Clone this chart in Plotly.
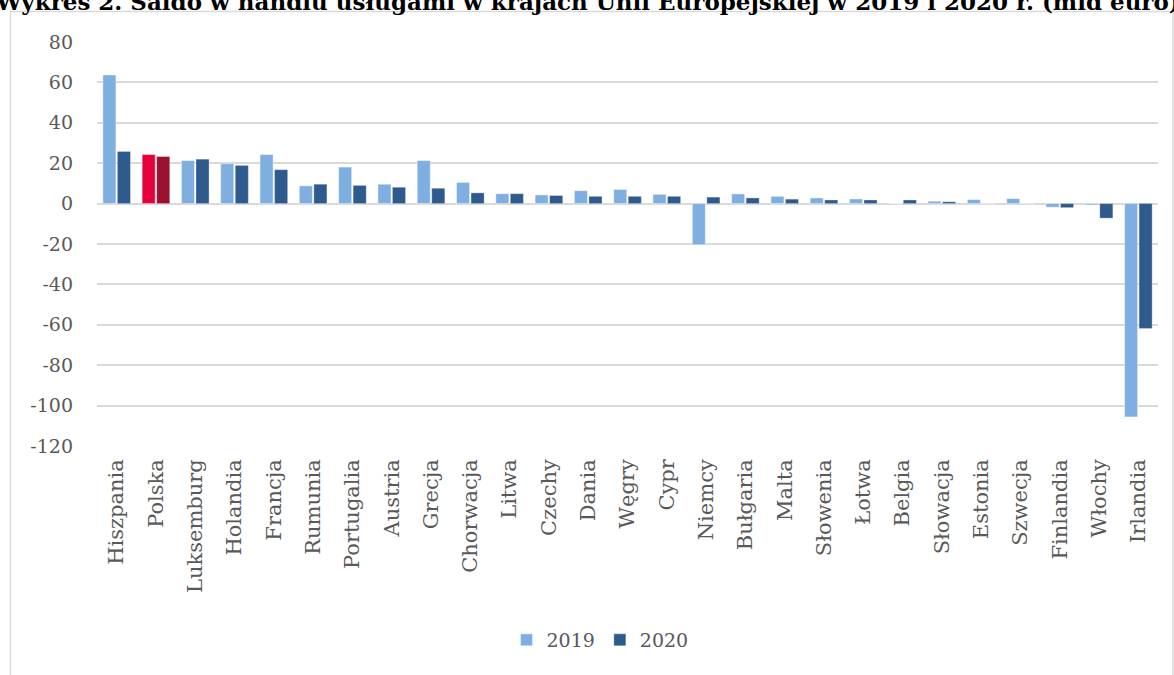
import plotly.graph_objects as go

countries = ["Hiszpania", "Polska", "Luksemburg", "Holandia", "Francja", "Rumunia",
             "Portugalia", "Austria", "Grecja", "Chorwacja", "Litwa", "Czechy", "Dania",
             "Węgry", "Cypr", "Niemcy", "Bułgaria", "Malta", "Słowenia", "Łotwa",
             "Belgia", "Słowacja", "Estonia", "Szwecja", "Finlandia", "Włochy", "Irlandia"]
v2019 = [63.7, 24.3, 21.3, 19.8, 24.3, 8.8, 18.1, 9.6, 21.3, 10.5, 4.9, 4.3, 6.4,
         7.0, 4.6, -20.4, 4.8, 3.6, 2.8, 2.3, 0.0, 1.2, 2.0, 2.5, -1.8, -0.7, -105.6]
v2020 = [25.8, 23.3, 22.0, 18.9, 16.8, 9.6, 9.0, 8.1, 7.6, 5.3, 4.9, 4.0, 3.6,
         3.6, 3.6, 3.2, 2.8, 2.2, 1.8, 1.8, 1.8, 0.9, 0.0, 0.0, -2.0, -7.2, -61.8]
yticks = [80, 60, 40, 20, 0, -20, -40, -60, -80, -100, -120]
title_text = "Wykres 2. Saldo w handlu usługami w krajach Unii Europejskiej w 2019 i 2020 r. (mld euro)"

C19 = "#7FAFE0"
C20 = "#2F5A8D"
highlight = "Polska"
col19 = ["#E4003B" if c == highlight else C19 for c in countries]
col20 = ["#9B1230" if c == highlight else C20 for c in countries]

FONT = "DejaVu Serif"
GRAY = "#595959"

fig = go.Figure()
fig.add_trace(go.Bar(name="2019", x=countries, y=v2019,
                     marker=dict(color=col19, line=dict(color="rgba(255,255,255,0.45)", width=1))))
fig.add_trace(go.Bar(name="2020", x=countries, y=v2020,
                     marker=dict(color=col20, line=dict(color="rgba(255,255,255,0.3)", width=1))))

W, H = 1174, 675
L, R, T, B = 97, 16, 41.5, 228.5
pw = W - L - R
ph = H - T - B

def px(x):
    return (x - L) / pw

def py(y):
    return (H - B - y) / ph

fig.update_layout(
    width=W, height=H,
    margin=dict(l=L, r=R, t=T, b=B, autoexpand=False),
    paper_bgcolor="white", plot_bgcolor="white",
    barmode="group", bargap=0.26, bargroupgap=0.1,
    font=dict(family=FONT, color=GRAY, size=19),
    showlegend=True,
    legend=dict(orientation="h", x=px(600), xanchor="center", y=py(641), yanchor="middle",
                font=dict(family=FONT, size=19, color=GRAY), itemwidth=30,
                traceorder="normal"),
    xaxis=dict(tickangle=-90, tickfont=dict(family=FONT, size=21, color=GRAY),
               showgrid=False, showline=False, ticks="", ticklen=0, ticklabelstandoff=8),
    yaxis=dict(range=[-120, 80], tickvals=yticks, ticktext=[str(v) for v in yticks],
               tickfont=dict(family=FONT, size=19, color=GRAY),
               showgrid=True, gridcolor="#D9D9D9", gridwidth=1.5,
               zeroline=True, zerolinecolor="#D9D9D9", zerolinewidth=1.5,
               showline=False, ticks="", ticklabelstandoff=23),
    shapes=[dict(type="rect", xref="paper", yref="paper",
                 x0=px(10.5), x1=px(1173), y0=py(690), y1=py(11),
                 line=dict(color="#D9D9D9", width=1.5), fillcolor="rgba(0,0,0,0)", layer="below")],
    annotations=[dict(text="<b>" + title_text + "</b>", xref="paper", yref="paper",
                      x=px(587), y=py(1), xanchor="center", yanchor="middle",
                      showarrow=False, font=dict(family="DejaVu Serif", size=23, color="black"))],
)

fig.write_html("out.html", config={"displayModeBar": False},
               post_script="document.body.style.margin='0';document.body.style.padding='0';")
